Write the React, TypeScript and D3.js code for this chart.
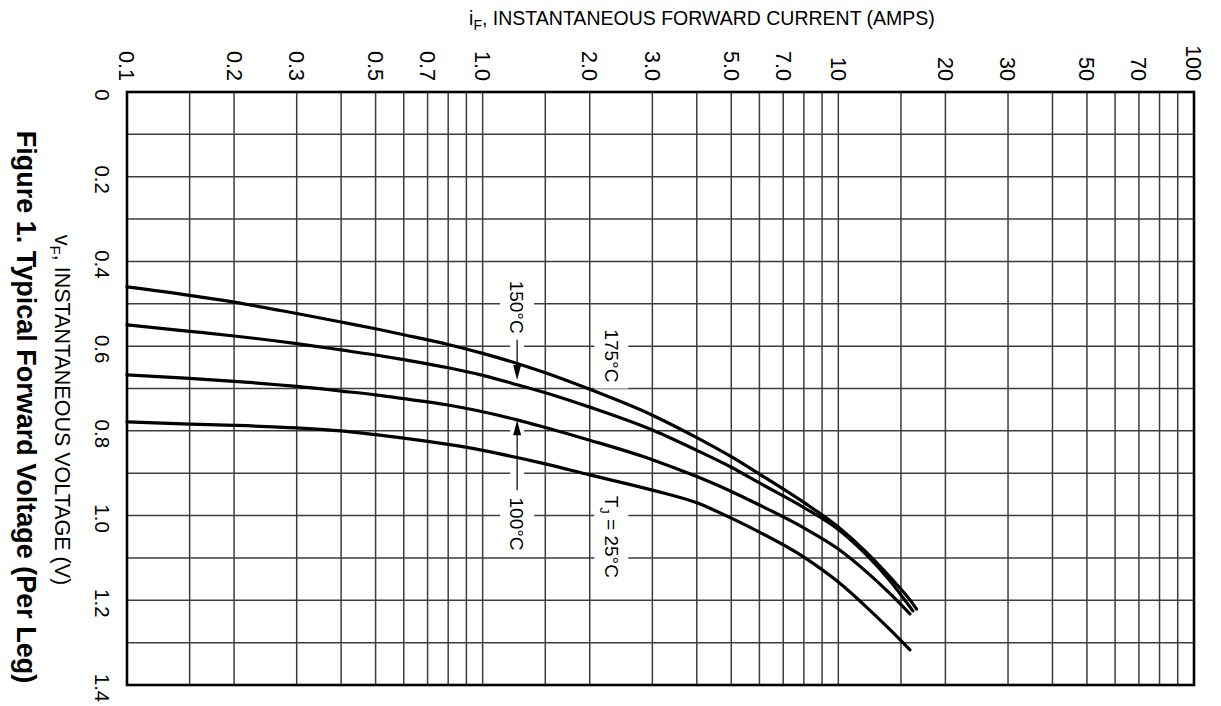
import React from 'react';
import * as d3 from 'd3';

// ---- Data ----
const currentTickValues = [0.1, 0.2, 0.3, 0.5, 0.7, 1.0, 2.0, 3.0, 5.0, 7.0, 10, 20, 30, 50, 70, 100];
const currentTickLabels = ['0.1', '0.2', '0.3', '0.5', '0.7', '1.0', '2.0', '3.0', '5.0', '7.0', '10', '20', '30', '50', '70', '100'];
const currentGridValues = [
  0.15, 0.2, 0.3, 0.4, 0.5, 0.6, 0.7, 0.8, 0.9, 1.0,
  1.5, 2, 3, 4, 5, 6, 7, 8, 9, 10,
  15, 20, 30, 40, 50, 60, 70, 80, 90,
];
const voltageTickValues = [0, 0.2, 0.4, 0.6, 0.8, 1.0, 1.2, 1.4];
const voltageTickLabels = ['0', '0.2', '0.4', '0.6', '0.8', '1.0', '1.2', '1.4'];
const voltageGridValues = [0.1, 0.2, 0.3, 0.4, 0.5, 0.6, 0.7, 0.8, 0.9, 1.0, 1.1, 1.2, 1.3];

// iF (A) vs vF (V) per junction temperature
const i175 = [0.1, 0.15, 0.2, 0.3, 0.4, 0.5, 0.6, 0.8, 1.0, 1.25, 1.5, 2, 3, 4, 5, 6, 8, 10, 12, 14, 16, 16.6];
const v175 = [0.46, 0.48, 0.496, 0.523, 0.543, 0.559, 0.573, 0.596, 0.617, 0.641, 0.663, 0.702, 0.763, 0.816, 0.861, 0.902, 0.969, 1.027, 1.087, 1.146, 1.202, 1.221];

const i150 = [0.1, 0.15, 0.2, 0.3, 0.4, 0.5, 0.6, 0.8, 1.0, 1.25, 1.5, 2, 3, 4, 5, 6, 8, 10, 12, 14, 16.2];
const v150 = [0.55, 0.565, 0.576, 0.594, 0.609, 0.621, 0.632, 0.651, 0.669, 0.691, 0.71, 0.744, 0.798, 0.846, 0.886, 0.923, 0.981, 1.033, 1.093, 1.155, 1.225];

const i100 = [0.1, 0.15, 0.2, 0.3, 0.4, 0.5, 0.6, 0.8, 1.0, 1.25, 1.5, 2, 3, 4, 5, 6, 8, 10, 12, 14, 15.9];
const v100 = [0.668, 0.676, 0.683, 0.695, 0.706, 0.715, 0.724, 0.739, 0.755, 0.774, 0.792, 0.822, 0.868, 0.908, 0.943, 0.975, 1.029, 1.079, 1.133, 1.185, 1.232];

const i25 = [0.1, 0.15, 0.2, 0.3, 0.4, 0.5, 0.6, 0.8, 1.0, 1.25, 1.5, 2, 3, 4, 5, 6, 8, 10, 12, 14, 15.9];
const v25 = [0.779, 0.784, 0.787, 0.793, 0.8, 0.809, 0.817, 0.832, 0.846, 0.863, 0.878, 0.904, 0.94, 0.97, 1.006, 1.039, 1.098, 1.157, 1.216, 1.27, 1.317];

const seriesList = [
  { name: '175°C', i: i175, v: v175 },
  { name: '150°C', i: i150, v: v150 },
  { name: '100°C', i: i100, v: v100 },
  { name: '25°C', i: i25, v: v25 },
];

const W = 1221;
const H = 706;
const FONT = '"Liberation Sans", Arial, Helvetica, sans-serif';

export default function App() {
  const x = d3.scaleLog().domain([0.1, 100]).range([127, 1194]);
  const y = d3.scaleLinear().domain([0, 1.4]).range([92, 685]);

  const line = d3
    .line<[number, number]>()
    .x((d) => x(d[0]))
    .y((d) => y(d[1]))
    .curve(d3.curveMonotoneX);

  const gridColor = '#3c3c3c';

  // annotation columns (placed in data space)
  const lx = x(1.25);
  const lx2 = x(2.3);

  const rotText = (
    cx: number,
    cy: number,
    content: React.ReactNode,
    size: number,
    weight: string | number = 'normal',
    key?: string
  ) => (
    <text
      key={key}
      transform={`translate(${cx},${cy}) rotate(90)`}
      textAnchor="middle"
      dy="0.35em"
      fontSize={size}
      fontWeight={weight}
      fontFamily={FONT}
      fill="#000"
    >
      {content}
    </text>
  );

  const y150tip = y(0.68);
  const y100tip = y(0.775);

  return (
    <svg
      width={W}
      height={H}
      viewBox={`0 0 ${W} ${H}`}
      style={{ position: 'absolute', left: 0, top: 0, background: '#fff' }}
    >
      <rect x={0} y={0} width={W} height={H} fill="#fff" />

      {/* grid */}
      <g stroke={gridColor} strokeWidth={1.5}>
        {currentGridValues.map((c) => (
          <line key={'vg' + c} x1={x(c)} x2={x(c)} y1={y(0)} y2={y(1.4)} />
        ))}
        {voltageGridValues.map((v) => (
          <line key={'hg' + v} x1={x(0.1)} x2={x(100)} y1={y(v)} y2={y(v)} />
        ))}
      </g>

      {/* label halos */}
      <g fill="#fff">
        <rect x={lx - 17} y={y(0.45) - 6} width={34} height={y(0.56) - y(0.45) + 8} />
        <rect x={lx - 17} y={y(0.96)} width={34} height={y(1.085) - y(0.96)} />
        <rect x={lx2 - 17} y={y(0.565)} width={34} height={y(0.7) - y(0.565)} />
        <rect x={lx2 - 17} y={y(0.94)} width={34} height={y(1.165) - y(0.94)} />
      </g>
      <g stroke="#fff" strokeWidth={14}>
        <line x1={lx} x2={lx} y1={y(0.575)} y2={y150tip - 2} />
        <line x1={lx} x2={lx} y1={y100tip + 2} y2={y(0.95)} />
      </g>

      {/* border */}
      <rect
        x={x(0.1)}
        y={y(0)}
        width={x(100) - x(0.1)}
        height={y(1.4) - y(0)}
        fill="none"
        stroke="#000"
        strokeWidth={2.6}
      />

      {/* curves */}
      <g fill="none" stroke="#000" strokeWidth={3.2} strokeLinecap="round">
        {seriesList.map((s) => (
          <path key={s.name} d={line(s.i.map((c, k) => [c, s.v[k]] as [number, number])) || ''} />
        ))}
      </g>

      {/* arrows */}
      <g stroke="#000" strokeWidth={1.2}>
        <line x1={lx} x2={lx} y1={y(0.585)} y2={y150tip - 12} />
        <line x1={lx} x2={lx} y1={y100tip + 12} y2={y(0.94)} />
      </g>
      <path
        d={`M${lx},${y150tip} L${lx - 4},${y150tip - 15} L${lx + 4},${y150tip - 15} Z`}
        fill="#000"
      />
      <path
        d={`M${lx},${y100tip} L${lx - 4},${y100tip + 15} L${lx + 4},${y100tip + 15} Z`}
        fill="#000"
      />

      {/* annotation labels */}
      {rotText(lx, y(0.508), '150°C', 19, 'normal', 'l150')}
      {rotText(lx, y(1.02), '100°C', 19, 'normal', 'l100')}
      {rotText(lx2, y(0.623), '175°C', 19, 'normal', 'l175')}
      {rotText(
        lx2,
        y(1.05),
        <>
          T<tspan dy="5" fontSize={13}>J</tspan>
          <tspan dy="-5"> = 25°C</tspan>
        </>,
        19,
        'normal',
        'l25'
      )}

      {/* x tick labels (top, rotated) */}
      {currentTickValues.map((c, k) => (
        <text
          key={'xt' + c}
          transform={`translate(${x(c)},81) rotate(90)`}
          textAnchor="end"
          dy="0.35em"
          fontSize={21.5}
          fontFamily={FONT}
          fill="#000"
        >
          {currentTickLabels[k]}
        </text>
      ))}

      {/* y tick labels (left, rotated) */}
      {voltageTickValues.map((v, k) =>
        rotText(102, y(v) + 3, voltageTickLabels[k], 20.5, 'normal', 'yt' + v)
      )}

      {/* x axis title */}
      <text x={702} y={25} textAnchor="middle" fontSize={19.5} fontFamily={FONT} fill="#000">
        i<tspan dy="5" fontSize={14}>F</tspan>
        <tspan dy="-5">, INSTANTANEOUS FORWARD CURRENT (AMPS)</tspan>
      </text>

      {/* y axis title */}
      {rotText(
        63,
        410,
        <>
          v<tspan dy="5" fontSize={15}>F</tspan>
          <tspan dy="-5">, INSTANTANEOUS VOLTAGE (V)</tspan>
        </>,
        21.5,
        'normal',
        'ytitle'
      )}

      {/* figure caption */}
      {rotText(26, 407, 'Figure 1. Typical Forward Voltage (Per Leg)', 27, 'bold', 'caption')}
    </svg>
  );
}
